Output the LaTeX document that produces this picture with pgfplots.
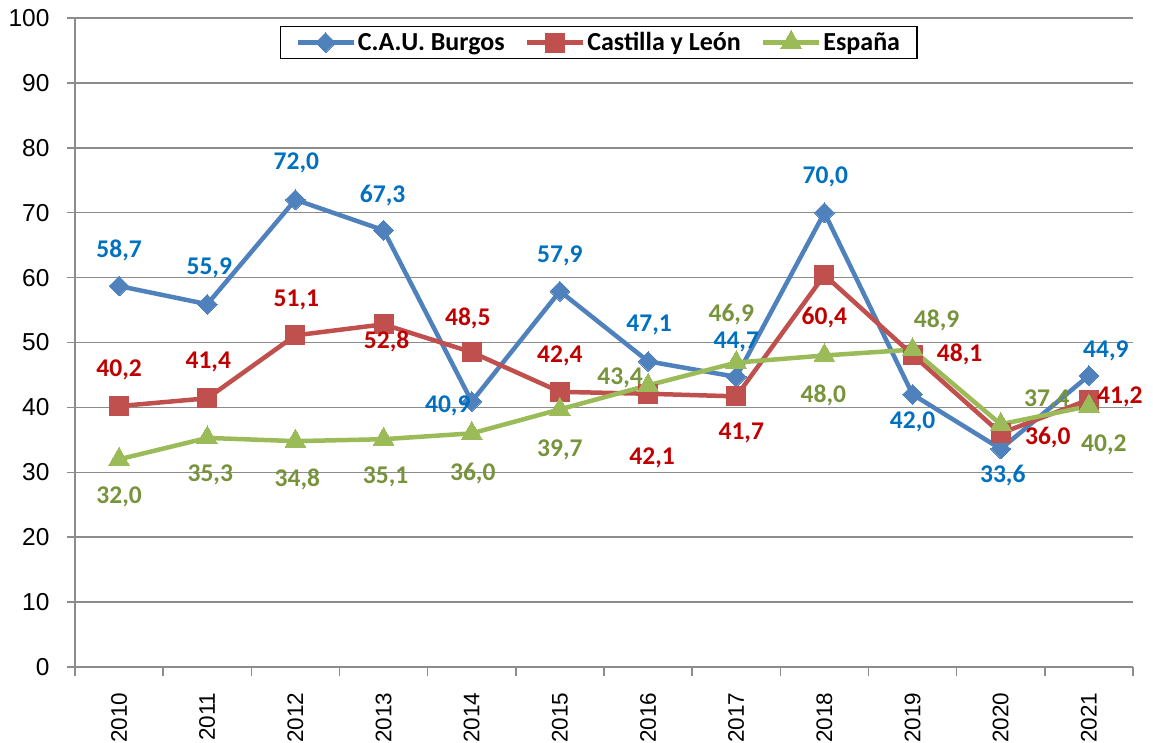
\documentclass[border=0pt]{standalone}
\usepackage{pgfplots}
\pgfplotsset{compat=1.18}
\usepackage{pgfplotstable}
\usepackage{fontspec}
\setmainfont{Liberation Sans}
\newfontfamily\calfont{Carlito}

\definecolor{cblue}{HTML}{4F81BD}
\definecolor{cred}{HTML}{C0504D}
\definecolor{cgreen}{HTML}{9BBB59}
\definecolor{tblue}{HTML}{0070C0}
\definecolor{tred}{HTML}{C00000}
\definecolor{tgreen}{HTML}{77933C}
\definecolor{gridgray}{HTML}{8C8C8C}

% x = year index, dx/dy = label offset in pt
\pgfplotstableread{
x y dx dy
0 58.7 0 36
1 55.9 2 36
2 72.0 1 37
3 67.3 -1 35
4 40.9 -24 -4
5 57.9 0 35
6 47.1 1 36
7 44.7 0 35
8 70.0 1 36
9 42.0 0 -27
10 33.6 2 -27
11 44.9 17 25
}\burgos
\pgfplotstableread{
x y dx dy
0 40.2 0 36
1 41.4 1 36
2 51.1 1 35
3 52.8 3 -17
4 48.5 -4 34
5 42.4 0 36
6 42.1 4 -64
7 41.7 5 -37
8 60.4 0 -43
9 48.1 47 0
10 36.0 47 -4
11 41.2 31 3
}\cyl
\pgfplotstableread{
x y dx dy
0 32.0 0 -38
1 35.3 3 -37
2 34.8 2 -38
3 35.1 2 -38
4 36.0 1 -40
5 39.7 0 -41
6 43.4 -28 7
7 46.9 -5 48
8 48.0 -1 -40
9 48.9 24 29
10 37.4 46 24
11 40.2 15 -39
}\espana

\begin{document}
\begin{tikzpicture}
\path[use as bounding box] (-75pt,-75pt) rectangle (1078pt,667pt);
\begin{axis}[
  scale only axis, width=1058pt, height=649pt,
  xmin=-0.5, xmax=11.5, ymin=0, ymax=100,
  xtick={0,...,11},
  xticklabels={2010,2011,2012,2013,2014,2015,2016,2017,2018,2019,2020,2021},
  minor xtick={-0.5,0.5,...,11.5},
  ytick={0,10,...,100},
  tick align=outside,
  major x tick style={draw=none},
  minor tick length=9pt, major tick length=8pt,
  tick style={gridgray, line width=1.5pt},
  axis line style={gridgray, line width=1.5pt},
  axis x line*=bottom, axis y line*=left,
  ymajorgrids, major grid style={gridgray, line width=1.5pt},
  /pgf/number format/assume math mode=true,
  y tick label style={font=\fontsize{24.5}{27}\selectfont},
  yticklabel shift=14pt,
  x tick label style={rotate=90, anchor=east, font=\fontsize{22.5}{24}\selectfont},
  xticklabel shift=14pt,
  legend columns=3,
  legend style={at={(0.495,0.988)}, anchor=north, draw=black, line width=1.5pt,
    font=\calfont\bfseries\fontsize{26}{28}\selectfont, inner xsep=15pt, inner ysep=4pt,
    /tikz/every even column/.append style={column sep=18pt},
    nodes={inner xsep=2pt}},
  legend image code/.code={\draw[mark repeat=2, mark phase=2] plot coordinates {(0pt,0pt) (28pt,0pt) (56pt,0pt)};},
  every axis plot/.append style={line width=4.5pt},
  nodes near coords={\pgfmathprintnumber[fixed, fixed zerofill, precision=1, use comma]{\pgfplotspointmeta}},
  every node near coord/.append style={font=\calfont\bfseries\fontsize{25.5}{28}\selectfont,
    anchor=center, inner sep=0pt, xshift=\dx pt, yshift=\dy pt},
  visualization depends on={\thisrow{dx} \as \dx},
  visualization depends on={\thisrow{dy} \as \dy},
]
\addplot[cblue, mark=square*, mark size=7pt, mark options={rotate=45, solid, line width=0pt}, nodes near coords={}] table[x=x, y=y] {\burgos};
\addlegendentry{C.A.U. Burgos}
\addplot[cred, mark=square*, mark size=9.5pt, mark options={solid, line width=0pt}, nodes near coords={}] table[x=x, y=y] {\cyl};
\addlegendentry{Castilla y León}
\addplot[cgreen, mark=triangle*, mark size=12pt, mark options={solid, line width=0pt}, nodes near coords={}] table[x=x, y=y] {\espana};
\addlegendentry{España}
\addplot[draw=none, forget plot, every node near coord/.append style={text=tblue}] table[x=x, y=y, meta=y] {\burgos};
\addplot[draw=none, forget plot, every node near coord/.append style={text=tred}] table[x=x, y=y, meta=y] {\cyl};
\addplot[draw=none, forget plot, every node near coord/.append style={text=tgreen}] table[x=x, y=y, meta=y] {\espana};
\end{axis}
\end{tikzpicture}
\end{document}
